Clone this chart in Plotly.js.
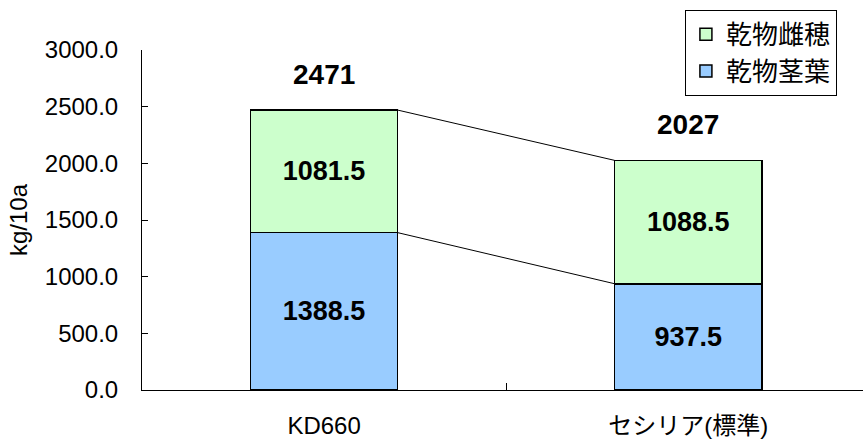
<!DOCTYPE html>
<html>
<head>
<meta charset="utf-8">
<script src="https://cdn.plot.ly/plotly-3.0.1.min.js"></script>
<style>html,body{margin:0;padding:0;background:#fff;}#chart{width:864px;height:441px;}</style>
</head>
<body>
<div id="chart"></div>
<script>
const categories = ["KD660", "セシリア(標準)"];
const stemLeaf = [1388.5, 937.5];      // 乾物茎葉
const ear = [1081.5, 1088.5];          // 乾物雌穂
const totals = [2471, 2027];
const yTickVals = [0, 500, 1000, 1500, 2000, 2500, 3000];

const FONT = "Liberation Sans, Arial, Noto Sans CJK JP, sans-serif";
const CJK = "Noto Sans CJK JP, Liberation Sans, sans-serif";
const barWidth = 0.404;

const traces = [
  {
    type: "bar", name: "乾物茎葉", x: categories, y: stemLeaf,
    width: barWidth,
    marker: {color: "#99CCFF", line: {color: "#000", width: 1.5}},
    text: stemLeaf.map(v => v.toFixed(1)), textposition: "inside",
    insidetextanchor: "middle", textangle: 0, constraintext: "none",
    textfont: {family: FONT, size: 27, color: "#000", weight: "bold"},
    hoverinfo: "skip"
  },
  {
    type: "bar", name: "乾物雌穂", x: categories, y: ear,
    width: barWidth,
    marker: {color: "#CCFFCC", line: {color: "#000", width: 1.5}},
    text: ear.map(v => v.toFixed(1)), textposition: "inside",
    insidetextanchor: "middle", textangle: 0, constraintext: "none",
    textfont: {family: FONT, size: 27, color: "#000", weight: "bold"},
    hoverinfo: "skip"
  }
];

const half = barWidth / 2;
const tops = stemLeaf.map((v, i) => v + ear[i]);
const shapes = [
  {type: "line", xref: "x", yref: "y", x0: 0 + half, x1: 1 - half,
   y0: stemLeaf[0], y1: stemLeaf[1], line: {color: "#000", width: 1}},
  {type: "line", xref: "x", yref: "y", x0: 0 + half, x1: 1 - half,
   y0: tops[0], y1: tops[1], line: {color: "#000", width: 1}}
];

const annotations = categories.map((c, i) => ({
  x: c, y: tops[i], xref: "x", yref: "y", text: String(totals[i]),
  showarrow: false, yanchor: "bottom", yshift: 18,
  font: {family: FONT, size: 28, color: "#000", weight: "bold"}
}));

const layout = {
  width: 864, height: 441,
  margin: {l: 142, r: 1, t: 50, b: 51},
  paper_bgcolor: "#fff", plot_bgcolor: "#fff",
  barmode: "stack",
  showlegend: true,
  legend: {
    x: 0.753, y: 1.118, xanchor: "left", yanchor: "top",
    traceorder: "reversed",
    bordercolor: "#000", borderwidth: 1, bgcolor: "#fff",
    font: {family: CJK, size: 26, color: "#000"},
    itemwidth: 30
  },
  xaxis: {
    type: "category", range: [-0.5, 1.48],
    showline: true, linecolor: "#000", linewidth: 1,
    ticks: "inside", ticklen: 7, tickcolor: "#000", tickson: "boundaries",
    showgrid: false, zeroline: false,
    ticklabelstandoff: 14,
    tickfont: {family: FONT, size: 24, color: "#000"}
  },
  yaxis: {
    range: [0, 3000], tickvals: yTickVals, tickformat: ".1f",
    showline: true, linecolor: "#000", linewidth: 1,
    ticks: "inside", ticklen: 6, tickcolor: "#000",
    showgrid: false, zeroline: false,
    ticklabelstandoff: 18,
    tickfont: {family: FONT, size: 24, color: "#000"},
    title: {text: "kg/10a", font: {family: FONT, size: 24, color: "#000"}, standoff: 10}
  },
  shapes: shapes,
  annotations: annotations
};

Plotly.newPlot("chart", traces, layout, {displayModeBar: false, staticPlot: true});
</script>
</body>
</html>
